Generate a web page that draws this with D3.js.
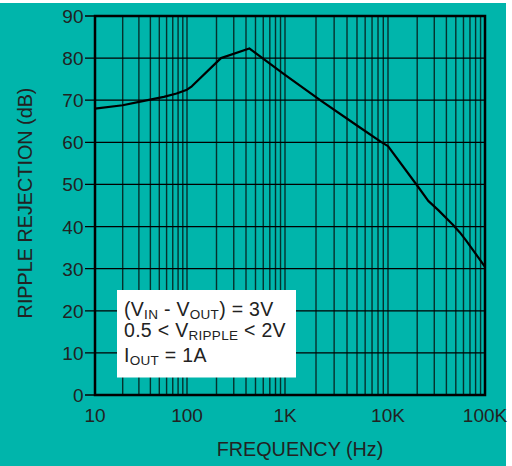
<!DOCTYPE html>
<html>
<head>
<meta charset="utf-8">
<script src="https://cdn.jsdelivr.net/npm/d3@7"></script>
<style>
  html, body { margin: 0; padding: 0; background: #fff; }
  svg { display: block; font-family: "Liberation Sans", Arial, sans-serif; }
</style>
</head>
<body>
<svg id="chart" width="512" height="466"></svg>
<script>
// ripple rejection curve
const freqs = [10, 20, 33, 56, 77, 100, 112, 222, 432, 1000, 2320, 5000, 8550, 10000,
  20500, 26000, 33000, 46400, 55000, 63700, 73000, 87000, 100000];
const rejection = [68.0, 68.8, 69.8, 70.8, 71.6, 72.5, 73.3, 80.0, 82.3, 76.0, 69.6, 64.0, 60.1, 59.1,
  49.4, 46.1, 43.9, 40.5, 38.6, 36.7, 34.8, 32.4, 30.4];

const xTicks = [10, 100, 1000, 10000, 100000];
const xTickLabels = ["10", "100", "1K", "10K", "100K"];
const yTicks = [0, 10, 20, 30, 40, 50, 60, 70, 80, 90];

const teal = "#00b5ab";
const ink = "#222";

const svg = d3.select("#chart");

svg.append("rect")
  .attr("x", 0).attr("y", 3)
  .attr("width", 506).attr("height", 463)
  .attr("fill", teal);

// the printed decades are not quite even, so map each one
const x = d3.scaleLog().domain(xTicks).range([95, 187, 285, 388, 485]);
const y = d3.scaleLinear().domain([0, 90]).range([395, 16]);

// log grid: every 1..9 in each decade
const gridX = [];
xTicks.slice(0, -1).forEach(function (d) {
  for (let k = 1; k <= 9; k++) gridX.push(d * k);
});
gridX.push(100000);

svg.append("g")
  .selectAll("line")
  .data(gridX)
  .enter()
  .append("line")
  .attr("x1", d => x(d)).attr("x2", d => x(d))
  .attr("y1", y(0)).attr("y2", y(90))
  .attr("stroke", "#06302c")
  .attr("stroke-width", 1.4);

svg.append("g")
  .selectAll("line")
  .data(yTicks)
  .enter()
  .append("line")
  .attr("x1", 85).attr("x2", x(100000))
  .attr("y1", d => y(d)).attr("y2", d => y(d))
  .attr("stroke", "#000")
  .attr("stroke-width", 1.3);

// frame
svg.append("rect")
  .attr("x", x(10)).attr("y", y(90))
  .attr("width", x(100000) - x(10))
  .attr("height", y(0) - y(90))
  .attr("fill", "none")
  .attr("stroke", "#000")
  .attr("stroke-width", 2.5);

const line = d3.line()
  .x((d, i) => x(freqs[i]))
  .y(d => y(d));

svg.append("path")
  .datum(rejection)
  .attr("d", line)
  .attr("fill", "none")
  .attr("stroke", "#000")
  .attr("stroke-width", 2.2)
  .attr("stroke-linejoin", "round");

// tick labels
svg.append("g")
  .selectAll("text")
  .data(yTicks)
  .enter()
  .append("text")
  .attr("x", 83.5)
  .attr("y", d => y(d) + 7)
  .attr("text-anchor", "end")
  .attr("font-size", 19)
  .attr("fill", ink)
  .text(d => d);

svg.append("g")
  .selectAll("text")
  .data(xTicks)
  .enter()
  .append("text")
  .attr("x", d => x(d))
  .attr("y", 421.5)
  .attr("text-anchor", "middle")
  .attr("font-size", 19)
  .attr("fill", ink)
  .text((d, i) => xTickLabels[i]);

// axis titles
svg.append("text")
  .attr("x", 300).attr("y", 455.5)
  .attr("text-anchor", "middle")
  .attr("font-size", 19.8)
  .attr("fill", ink)
  .text("FREQUENCY (Hz)");

svg.append("text")
  .attr("transform", "translate(31.5,203) rotate(-90)")
  .attr("text-anchor", "middle")
  .attr("font-size", 19.8)
  .attr("fill", ink)
  .text("RIPPLE REJECTION (dB)");

// conditions box
svg.append("rect")
  .attr("x", 117).attr("y", 290)
  .attr("width", 179).attr("height", 87.5)
  .attr("fill", "#fff");

const note = svg.append("g")
  .attr("font-size", 19.5)
  .attr("letter-spacing", 0.3)
  .attr("fill", ink);

function noteLine(yPos, parts) {
  const t = note.append("text").attr("x", 124).attr("y", yPos);
  parts.forEach(function (p) {
    const s = t.append("tspan").text(p[0]);
    if (p[1]) {
      s.attr("font-size", 13.5).attr("dy", 3);
    } else if (p[2]) {
      s.attr("dy", -3);
    }
  });
}

noteLine(315.5, [["(V"], ["IN", true], [" - V", false, true], ["OUT", true], [") = 3V", false, true]]);
noteLine(336.5, [["0.5 < V"], ["RIPPLE", true], [" < 2V", false, true]]);
noteLine(361.5, [["I"], ["OUT", true], [" = 1A", false, true]]);
</script>
</body>
</html>
